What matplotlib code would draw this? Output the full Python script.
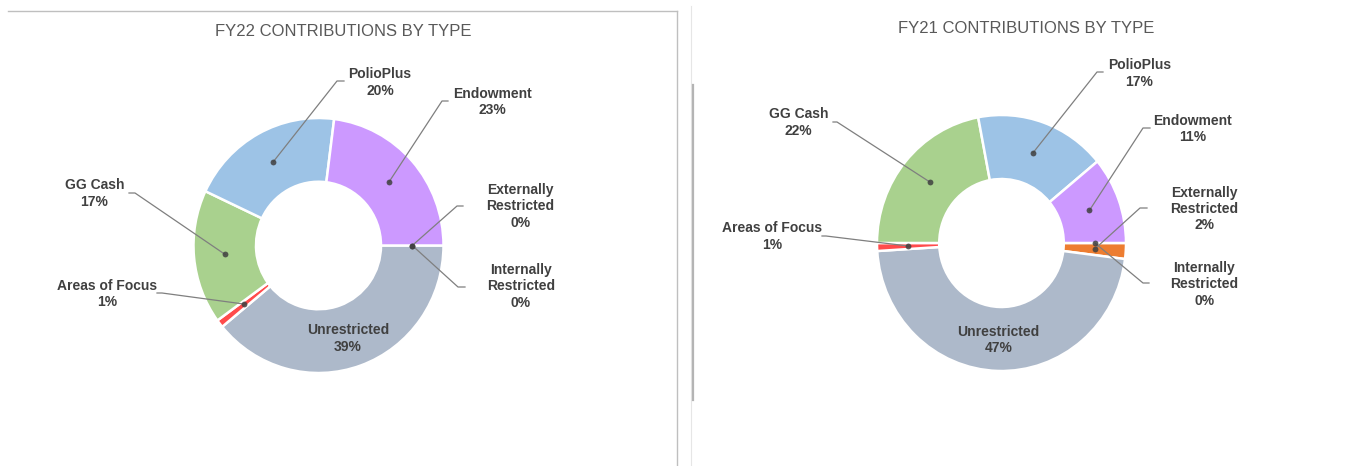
import matplotlib
matplotlib.use("Agg")
import matplotlib.pyplot as plt
import numpy as np

plt.rcParams['font.family'] = ['Liberation Sans', 'DejaVu Sans']

# data (clockwise from 3 o'clock)
categories = ["Internally\nRestricted", "Externally\nRestricted", "Unrestricted",
              "Areas of Focus", "GG Cash", "PolioPlus", "Endowment"]
fy22_values = [0, 0, 39, 1, 17, 20, 23]
fy21_values = [0, 2, 47, 1, 22, 17, 11]
colors = ['#5B9BD5', '#ED7D31', '#ADB9CA', '#FF4B4B', '#A9D18E', '#9DC3E6', '#CC99FF']

W, H = 1368, 466
fig = plt.figure(figsize=(W / 100, H / 100), dpi=100)

# layout in pixels (from top-left): label centre, leader tick start, tick end
left_layout = {
    "center": (318.5, 245.5), "r": (125, 127.5), "title": (343.5, 32),
    "labels": {
        "PolioPlus": ((380, 82.5), (344, 81), (337, 81)),
        "Endowment": ((492, 102), (448, 101), (442, 101)),
        "Externally\nRestricted": ((520.5, 206.5), (463, 206), (457, 206)),
        "Internally\nRestricted": ((521, 286.5), (465, 287), (458, 287)),
        "GG Cash": ((94.5, 193.5), (129, 193), (135, 193)),
        "Areas of Focus": ((107, 294), (157, 293), (162, 293)),
        "Unrestricted": ((348, 338.5), None, None),
    },
}
right_layout = {
    "center": (1001.5, 243), "r": (124.5, 128), "title": (1026.5, 28.5),
    "labels": {
        "PolioPlus": ((1139.5, 73.5), (1103, 72), (1097, 72)),
        "Endowment": ((1193, 129), (1150, 128), (1143, 128)),
        "Externally\nRestricted": ((1204.5, 209), (1147, 208), (1140, 208)),
        "Internally\nRestricted": ((1204.5, 284.5), (1149, 283), (1143, 283)),
        "GG Cash": ((798.5, 122.5), (833, 122), (837, 122)),
        "Areas of Focus": ((772, 236.5), (822, 236), (826, 236)),
        "Unrestricted": ((998.5, 340), None, None),
    },
}


def draw_donut(values, title, lay):
    cx, cy = lay["center"]
    rx, ry = lay["r"]
    ax = fig.add_axes([0, 0, 1, 1])
    ax.patch.set_alpha(0)

    def to_data(p):
        return ((p[0] - cx) / rx, (cy - p[1]) / ry)

    wedges, _ = ax.pie(values, colors=colors, startangle=0, counterclock=False,
                       radius=1, wedgeprops=dict(width=0.5, edgecolor='white', linewidth=1.8))
    ax.set_aspect('auto')
    ax.set_xlim((0 - cx) / rx, (W - cx) / rx)
    ax.set_ylim((cy - H) / ry, cy / ry)
    ax.axis('off')

    for w, cat, v in zip(wedges, categories, values):
        (tx, ty), t0, t1 = lay["labels"][cat]
        tdx, tdy = to_data((tx, ty))
        ax.text(tdx, tdy, f"{cat}\n{v}%", ha='center', va='center', fontsize=10,
                fontweight='bold', color='#404040', linespacing=1.22, zorder=5)
        if t0 is None:
            continue
        # leader line ends in the middle of the ring at the wedge's mid angle
        mid = np.deg2rad((w.theta1 + w.theta2) / 2)
        dx, dy = 0.75 * np.cos(mid), 0.75 * np.sin(mid)
        a = to_data(t0)
        b = to_data(t1)
        ax.plot([a[0], b[0], dx], [a[1], b[1], dy], color='#7F7F7F', lw=0.9, zorder=4)
        ax.plot([dx], [dy], 'o', color='#404040', alpha=0.85, ms=4.2, mec='none', zorder=6)

    fig.text(lay["title"][0] / W, 1 - lay["title"][1] / H, title, ha='center', va='center',
             fontsize=12, color='#595959')


draw_donut(fy22_values, "FY22 CONTRIBUTIONS BY TYPE", left_layout)
draw_donut(fy21_values, "FY21 CONTRIBUTIONS BY TYPE", right_layout)

# panel borders
frame = fig.add_axes([0, 0, 1, 1])
frame.patch.set_alpha(0)
frame.set_xlim(0, W)
frame.set_ylim(H, 0)
frame.axis('off')
frame.plot([8, 677], [10.5, 10.5], color='#BFBFBF', lw=1)
frame.plot([677, 677], [10.5, H], color='#BFBFBF', lw=1)
frame.plot([691, 691], [6, H], color='#E6E6E6', lw=0.8)
frame.plot([692.5, 692.5], [85, 400], color='#B4B4B4', lw=1.6)

fig.savefig("out.png", dpi=100, facecolor='white')
